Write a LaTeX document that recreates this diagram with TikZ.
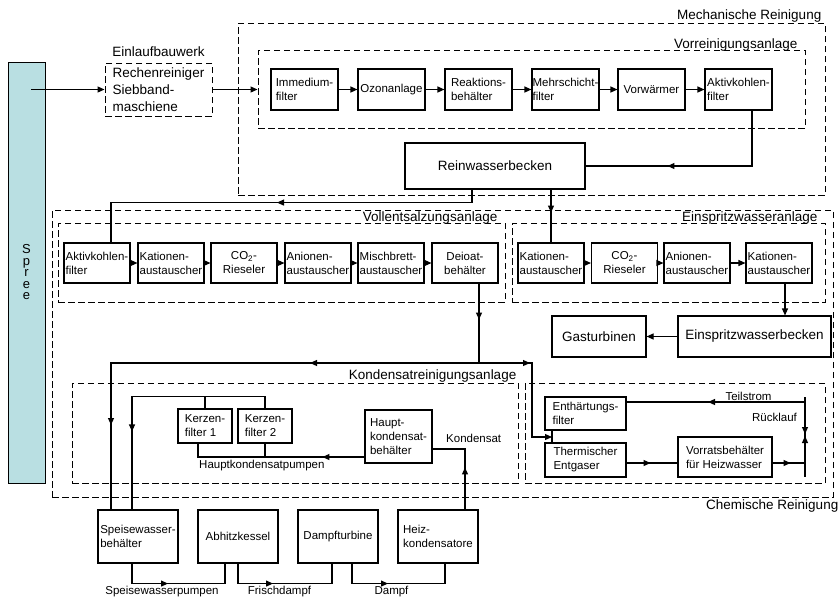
\documentclass[tikz,border=0pt]{standalone}
\usepackage{fontspec}
\setmainfont{Liberation Sans}
\usepackage{tikz}
\usetikzlibrary{arrows.meta,positioning,decorations.markings}
\definecolor{spreeblau}{RGB}{185,223,226}
\tikzset{pfeil/.tip={Triangle[length=7pt,width=6pt]}}
\tikzset{
  box/.style={draw, line width=1.1pt, inner xsep=0.5pt, inner ysep=1.5pt, align=left, font=\fontsize{11.5}{14}\selectfont},
  bigbox/.style={draw, line width=1.1pt, inner sep=2pt, align=center, font=\fontsize{13.5}{17}\selectfont},
  anlage/.style={draw, line width=1pt, dash pattern=on 6.5pt off 3.5pt},
  lbl/.style={font=\fontsize{13.5}{16}\selectfont, inner sep=1pt},
  slbl/.style={font=\fontsize{11.5}{14}\selectfont, inner sep=1pt},
  conn/.style={line width=1.1pt},
  arr/.style={conn, -pfeil},
  midarr/.style={postaction={decorate, decoration={markings, mark=at position #1 with {\arrow{pfeil}}}}},
  backarr/.style={postaction={decorate, decoration={markings, mark=at position #1 with {\arrowreversed{pfeil}}}}},
}

\begin{document}
\begin{tikzpicture}[x=1pt, y=-1pt]
        \useasboundingbox (0,0) rectangle (840,600);

        % Spree und Einlauf
        \node[draw, line width=1pt, fill=spreeblau, minimum width=37, minimum height=421, align=center, font=\fontsize{13}{11.5}\selectfont] (spree) at (26.5,272.5) {S\\p\\r\\e\\e};
        \node[bigbox, anlage, align=left, minimum width=107, minimum height=53, label={[lbl, label distance=5pt]above:Einlaufbauwerk}] (einlauf) at (158.5,89.5) {Rechenreiniger\\Siebband-\\maschiene};
        \coordinate (quelle) at (31,89.5);

        % Anlagen (gestrichelt)
        \node[anlage, minimum width=587, minimum height=172] (mech) at (531.5,109) {};
        \node[lbl, anchor=base east] at ([xshift=-3pt, yshift=3pt]mech.north east) {Mechanische Reinigung};
        \node[anlage, minimum width=547, minimum height=78] (vorrein) at (531.5,89) {};
        \node[lbl, anchor=base east] at ([xshift=-7pt, yshift=1pt]vorrein.north east) {Vorreinigungsanlage};

        \node[anlage, minimum width=781, minimum height=287] (chem) at (442.5,353.5) {};
        \node[lbl, anchor=north east] at ([xshift=6pt, yshift=-1pt]chem.south east) {Chemische Reinigung};
        \node[anlage, minimum width=447, minimum height=79] (vea) at (281.5,262.5) {};
        \node[lbl, anchor=base east] at ([xshift=-7pt, yshift=1pt]vea.north east) {Vollentsalzungsanlage};
        \node[anlage, minimum width=313, minimum height=79] (esa) at (668.5,262.5) {};
        \node[lbl, anchor=base east] at ([xshift=-7pt, yshift=1pt]esa.north east) {Einspritzwasseranlage};
        \node[anlage, minimum width=446, minimum height=100] (kra) at (295,433) {};
        \node[lbl, anchor=base east] at ([xshift=-1pt, yshift=3pt]kra.north east) {Kondensatreinigungsanlage};
        \node[anlage, minimum width=300, minimum height=100] (krb) at (675,433) {};

        % Vorreinigung
        \node[box, minimum width=67, minimum height=41] (v1) at (304.5,89.5) {Immedium-\\filter};
        \node[box, minimum width=67, minimum height=41] (v2) at (391.5,89.5) {Ozonanlage};
        \node[box, minimum width=67, minimum height=41] (v3) at (478.5,89.5) {Reaktions-\\behälter};
        \node[box, minimum width=67, minimum height=41] (v4) at (565.5,89.5) {Mehrschicht-\\filter};
        \node[box, minimum width=67, minimum height=41] (v5) at (651.5,89.5) {Vorwärmer};
        \node[box, minimum width=67, minimum height=41] (v6) at (738.5,89.5) {Aktivkohlen-\\filter};
        \node[bigbox, minimum width=180, minimum height=46] (rein) at (495,166) {Reinwasserbecken};

        % Vollentsalzung
        \node[box, minimum width=66, minimum height=40] (ve1) at (97,263) {Aktivkohlen-\\filter};
        \node[box, minimum width=66, minimum height=40] (ve2) at (171,263) {Kationen-\\austauscher};
        \node[box, minimum width=66, minimum height=40, align=center] (ve3) at (244,263) {CO\textsubscript{2}-\\Rieseler};
        \node[box, minimum width=66, minimum height=40] (ve4) at (318,263) {Anionen-\\austauscher};
        \node[box, minimum width=66, minimum height=40] (ve5) at (391,263) {Mischbrett-\\austauscher};
        \node[box, minimum width=66, minimum height=40, align=center] (ve6) at (465,263) {Deioat-\\behälter};

        % Einspritzwasser
        \node[box, minimum width=66, minimum height=40] (es1) at (551,263) {Kationen-\\austauscher};
        \node[box, minimum width=66, minimum height=40, align=center] (es2) at (624.5,263) {CO\textsubscript{2}-\\Rieseler};
        \node[box, minimum width=66, minimum height=40] (es3) at (697,263) {Anionen-\\austauscher};
        \node[box, minimum width=66, minimum height=40] (es4) at (779,263) {Kationen-\\austauscher};
        \node[bigbox, minimum width=153, minimum height=41] (ewb) at (754.5,336.5) {Einspritzwasserbecken};
        \node[bigbox, minimum width=94, minimum height=41] (gt) at (599,336.5) {Gasturbinen};

        % Kondensatreinigung
        \node[box, minimum width=54, minimum height=34] (kf1) at (205,426) {Kerzen-\\filter 1};
        \node[box, minimum width=54, minimum height=34] (kf2) at (265,426) {Kerzen-\\filter 2};
        \node[box, minimum width=67, minimum height=53] (hkb) at (398.5,436.5) {Haupt-\\kondensat-\\behälter};
        \node[box, minimum width=81, minimum height=33] (eh) at (585.5,413.5) {Enthärtungs-\\filter};
        \node[box, minimum width=81, minimum height=34] (te) at (585.5,460) {Thermischer\\Entgaser};
        \node[box, minimum width=94, minimum height=40] (vb) at (725,457) {Vorratsbehälter\\für Heizwasser};

        % Kraftwerk
        \node[box, minimum width=80, minimum height=53] (sw) at (138,536.5) {Speisewasser-\\behälter};
        \node[box, minimum width=80, minimum height=53] (ab) at (238,536.5) {Abhitzkessel};
        \node[box, minimum width=80, minimum height=53] (dt) at (338,536.5) {Dampfturbine};
        \node[box, minimum width=80, minimum height=53] (hk) at (438,536.5) {Heiz-\\kondensatore};

        \coordinate (knoten) at (479,363);
        \coordinate (ehte) at (552,437);
        \coordinate (bartop) at (805,397);
        \coordinate (barbot) at (805,477);
        \coordinate (teilstrom) at (805,402);

        % Verbindungen
        \draw[arr] (quelle) -- (einlauf.west);
        \draw[arr] (einlauf.east) -- (einlauf.east -| vorrein.west);
        \draw[arr] (v1) -- (v2);
        \draw[arr] (v2) -- (v3);
        \draw[arr] (v3) -- (v4);
        \draw[arr] (v4) -- (v5);
        \draw[arr] (v5) -- (v6);
        \draw[conn, midarr=140pt] ([xshift=13.5pt]v6.south) |- (rein.east);
        \draw[conn, midarr=208pt] ([xshift=-23pt]rein.south) -- ++(0,13) -| ([xshift=14pt]ve1.north);
        \draw[conn, midarr=23pt] (rein.south -| es1.north) -- (es1.north);

        \draw[arr] (ve1) -- (ve2);
        \draw[arr] (ve2) -- (ve3);
        \draw[arr] (ve3) -- (ve4);
        \draw[arr] (ve4) -- (ve5);
        \draw[arr] (ve5) -- (ve6);
        \draw[arr] (es1) -- (es2);
        \draw[arr] (es2) -- (es3);
        \draw[arr] (es3) -- (es4);
        \draw[arr] ([xshift=6pt]es4.south) -- ([xshift=6pt]es4.south |- ewb.north);
        \draw[arr] (ewb) -- (gt);

        \draw[conn, midarr=36pt] ([xshift=14pt]ve6.south) -- (knoten);
        \draw[conn, midarr=169pt, midarr=430pt] (knoten) -| ([xshift=-27pt]sw.north);
        \draw[arr, midarr=51pt] (knoten) -- ++(53,0) |- (ehte);

        \draw[conn, midarr=180pt] (kf2.north) -- ++(0,-12) -| ([xshift=-6pt]sw.north);
        \draw[conn] (kf1.north) -- ++(0,-12);
        \draw[conn, midarr=42pt] ([yshift=-20.5pt]hkb.west) -| ([xshift=-7pt]kf1.south);
        \draw[conn] (kf2.south) -- ++(0,14);
        \draw[conn, midarr=42pt] ([xshift=27pt]hk.north) |- ([yshift=-12.5pt]hkb.east);
        \node[slbl, anchor=west] at (198,466) {Hauptkondensatpumpen};
        \node[slbl, anchor=west] at (445,438) {Kondensat};

        \draw[conn] ([xshift=-33.5pt]eh.south) -- ([xshift=-33.5pt]te.north);
        \draw[conn, midarr=37pt, backarr=39pt] (bartop) -- (barbot);
        \draw[conn, midarr=97pt] (teilstrom) -- (teilstrom -| eh.east);
        \draw[conn, midarr=24pt] ([yshift=-3pt]te.east) -- ++(52,0);
        \draw[conn, midarr=18pt] ([yshift=-6pt]vb.east) -- ++(33,0);
        \node[slbl] at (748.5,396) {Teilstrom};
        \node[slbl] at (774.5,417) {Rücklauf};

        \draw[conn, midarr=56pt] ([xshift=-6pt]sw.south) -- ++(0,20) -| ([xshift=-13pt]ab.south);
        \draw[conn, midarr=55pt] (ab.south) -- ++(0,20) -| ([xshift=-6pt]dt.south);
        \draw[conn, midarr=56pt] ([xshift=14pt]dt.south) -- ++(0,20) -| ([xshift=7pt]hk.south);
        \node[slbl] at (162,592) {Speisewasserpumpen};
        \node[slbl] at (279.5,592) {Frischdampf};
        \node[slbl] at (391.5,592) {Dampf};
\end{tikzpicture}
\end{document}
